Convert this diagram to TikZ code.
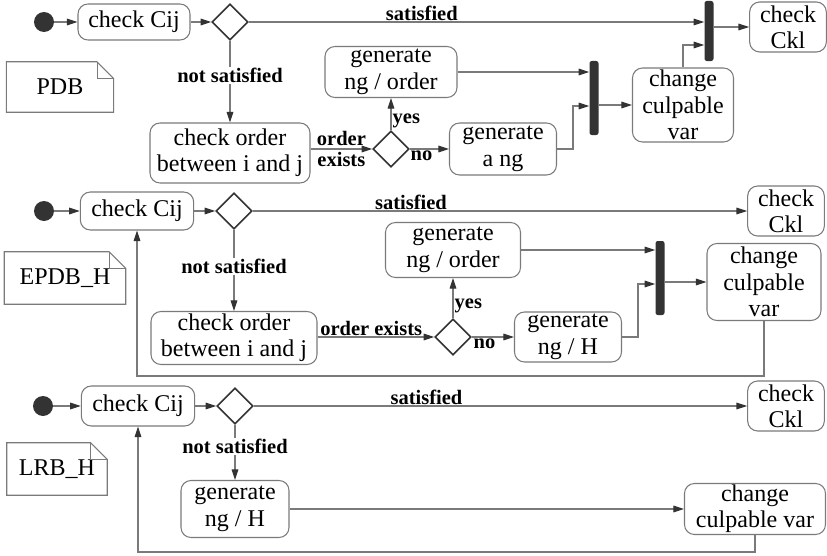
\documentclass[tikz,border=0pt]{standalone}
\usepackage{fontspec}
\setmainfont{Liberation Serif}
\usetikzlibrary{arrows.meta, shapes.geometric}
\definecolor{linegray}{HTML}{7A7A7A}
\definecolor{darkfill}{HTML}{333333}

\begin{document}
\begin{tikzpicture}[
                x=0.03cm, y=-0.03cm,
                every node/.style={inner sep=1pt},
                act/.style={draw=linegray, line width=0.9pt, rounded corners=0.3cm,
                    align=center, inner sep=0pt, font=\fontsize{20.5}{22.5}\selectfont},
                choice/.style={diamond, draw=darkfill, line width=1.3pt,
                    minimum size=1.08cm, inner sep=0pt},
                start/.style={circle, fill=darkfill, minimum size=0.6cm, inner sep=0pt},
                joinbar/.style={fill=darkfill, rounded corners=2pt,
                    minimum width=0.27cm, inner sep=0pt},
                notebox/.style={minimum width=3.2cm, minimum height=1.5cm,
                    font=\fontsize{20.5}{22}\selectfont},
                lbl/.style={font=\bfseries\fontsize{17.5}{18}\selectfont},
                flow/.style={draw=linegray, line width=0.9pt,
                    -{Triangle[length=3.2mm, width=2mm, color=darkfill]}}
            ]
            \useasboundingbox (0, 0) rectangle (827, 556);

            % PDB
            \node[start] (dotA) at (44, 22) {};
            \node[act, minimum width=3.36cm, minimum height=1.08cm] (cijA) at (134, 22) {check Cij};
            \node[choice] (decA1) at (230, 22) {};
            \node[joinbar, minimum height=1.8cm] (barA) at (709, 31) {};
            \node[act, minimum width=2.3cm, minimum height=1.5cm] (cklA) at (788, 27) {check\\Ckl};
            \node[act, minimum width=3.03cm, minimum height=2.22cm] (chgA) at (683, 105) {change\\culpable\\var};
            \node[joinbar, minimum height=2.22cm] (barA2) at (594, 98) {};
            \node[act, minimum width=3.96cm, minimum height=1.53cm] (gnoA) at (391, 72) {generate\\ng / order};
            \node[act, minimum width=3.21cm, minimum height=1.56cm] (ganA) at (503, 149) {generate\\a ng};
            \node[choice] (decA2) at (391, 149) {};
            \node[act, minimum width=4.8cm, minimum height=1.8cm] (ordA) at (230, 153) {check order\\between i and j};
            \node[notebox] (noteA) at (60, 87) {PDB};

            \draw[flow] (dotA) -- (cijA);
            \draw[flow] (cijA) -- (decA1);
            \draw[flow] (decA1) -- node[lbl, above, pos=0.38] (satA) {satisfied} (barA.west |- decA1);
            \draw[flow] (barA.east |- cklA) -- (cklA);
            \draw[flow] (decA1) -- node[lbl, fill=white, pos=0.42] (nsA) {not satisfied} (ordA);
            \draw[flow] (ordA.east |- decA2) -- node[lbl, above=2pt, inner sep=0pt] (ordlA) {order}
                node[lbl, below=2pt, inner sep=0pt] (exlA) {exists} (decA2);
            \draw[flow] (decA2) -- node[lbl, right, pos=0.3] (yesA) {yes} (gnoA);
            \draw[flow] (decA2) -- node[lbl, below, pos=0.3] (noA) {no} (ganA);
            \draw[flow] (gnoA) -- (barA2.west |- gnoA);
            \draw[flow] (ganA.east) -- (573, 149) |- (barA2.west |- 0, 106);
            \draw[flow] (barA2.east |- chgA) -- (chgA);
            \draw[flow] (chgA) |- (barA.west |- 0, 45);

            % EPDB_H
            \node[start] (dotB) at (44, 211) {};
            \node[act, minimum width=3.4cm, minimum height=1.14cm] (cijB) at (137, 211) {check Cij};
            \node[choice] (decB1) at (234, 211) {};
            \node[act, minimum width=2.3cm, minimum height=1.5cm] (cklB) at (786, 211) {check\\Ckl};
            \node[act, minimum width=4.98cm, minimum height=1.59cm] (ordB) at (234, 338) {check order\\between i and j};
            \node[choice] (decB2) at (453, 337) {};
            \node[act, minimum width=4.05cm, minimum height=1.65cm] (gnoB) at (453, 250) {generate\\ng / order};
            \node[act, minimum width=3.21cm, minimum height=1.5cm] (ghB) at (568, 337) {generate\\ng / H};
            \node[joinbar, minimum height=2.22cm] (barB) at (660, 278) {};
            \node[act, minimum width=3.42cm, minimum height=2.31cm] (chgB) at (764, 282) {change\\culpable\\var};
            \node[notebox, minimum width=3.63cm, minimum height=1.56cm] (noteB) at (65, 278) {EPDB\_H};

            \draw[flow] (dotB) -- (cijB);
            \draw[flow] (cijB) -- (decB1);
            \draw[flow] (decB1) -- node[lbl, above, pos=0.32] (satB) {satisfied} (cklB);
            \draw[flow] (decB1) -- node[lbl, fill=white, pos=0.45] (nsB) {not satisfied} (ordB);
            \draw[flow] (ordB.east |- decB2) -- node[lbl, above, pos=0.46] (oexB) {order exists} (decB2);
            \draw[flow] (decB2) -- node[lbl, right, pos=0.3] (yesB) {yes} (gnoB);
            \draw[flow] (decB2) -- node[lbl, below, pos=0.3] (noB) {no} (ghB);
            \draw[flow] (gnoB) -- (barB.west |- gnoB);
            \draw[flow] (ghB.east) -- (638, 337) |- (barB.west |- 0, 284);
            \draw[flow] (barB.east |- chgB) -- (chgB);
            \draw[flow] (chgB.south) -- (chgB.south |- 0, 376) -| (cijB);

            % LRB_H
            \node[start] (dotC) at (43, 406) {};
            \node[act, minimum width=3.4cm, minimum height=1.2cm] (cijC) at (138, 406) {check Cij};
            \node[choice] (decC) at (235, 406) {};
            \node[act, minimum width=2.3cm, minimum height=1.5cm] (cklC) at (786, 406) {check\\Ckl};
            \node[act, minimum width=3.24cm, minimum height=1.71cm] (ghC) at (235, 509) {generate\\ng / H};
            \node[act, minimum width=4.23cm, minimum height=1.53cm] (chgC) at (755, 509) {change\\culpable var};
            \node[notebox, minimum width=3cm, minimum height=1.56cm] (noteC) at (57, 469) {LRB\_H};

            \draw[flow] (dotC) -- (cijC);
            \draw[flow] (cijC) -- (decC);
            \draw[flow] (decC) -- node[lbl, above, pos=0.35] (satC) {satisfied} (cklC);
            \draw[flow] (decC) -- node[lbl, fill=white, pos=0.4] (nsC) {not satisfied} (ghC);
            \draw[flow] (ghC) -- (chgC);
            \draw[flow] (chgC.south) -- (chgC.south |- 0, 552) -| (cijC);

            % folded notes
            \foreach \n in {noteA, noteB, noteC} {
                \draw[linegray, line width=0.9pt] (\n.south west) -- (\n.north west)
                    -- ([xshift=-0.5cm]\n.north east) -- ([yshift=-0.5cm]\n.north east)
                    -- (\n.south east) -- cycle;
                \draw[linegray, line width=0.6pt] ([xshift=-0.5cm]\n.north east)
                    |- ([yshift=-0.5cm]\n.north east);
            }
        \end{tikzpicture}
\end{document}
